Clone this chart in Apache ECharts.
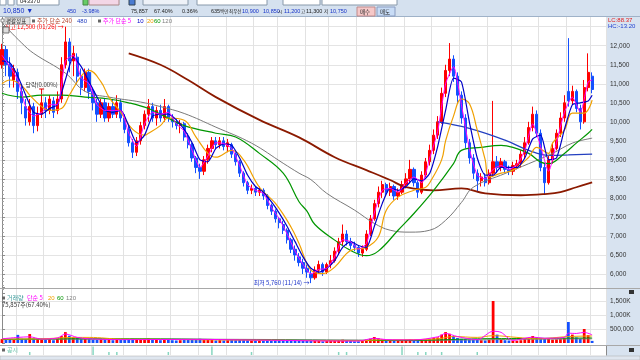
<!DOCTYPE html>
<html><head><meta charset="utf-8">
<script src="https://cdn.jsdelivr.net/npm/echarts/dist/echarts.min.js"></script>
<style>html,body{margin:0;padding:0;background:#fff}#c{width:640px;height:360px}</style>
</head><body><div id="c"></div>
<script>
// ---- candle data (each bar ~ 3 trading days), price in KRW ----
const opens = [
11500,11900,11500,11100,11300,10800,10400,10000,10400,9900,
10200,10500,10300,10550,10300,10600,11500,12100,11600,11700,
11200,10900,11300,10800,10500,10200,10500,10100,10400,10200,
10500,10100,9800,9450,9200,9500,9900,10200,10400,10100,
10300,10100,10400,10100,10000,9900,9950,9600,9400,9050,
8800,8700,9000,9300,9500,9400,9500,9350,9400,9150,
8950,8650,8400,8200,8250,8150,8200,8050,7800,7650,
7450,7300,7150,6900,6650,6450,6300,6150,6000,5900,
6100,6250,6050,6250,6350,6600,6850,7050,6850,6750,
6700,6550,6650,7050,7450,7850,8150,8350,8150,8300,
8050,8150,8350,8500,8750,8400,8150,8600,8950,9250,
9650,10000,10750,11350,11650,11200,10700,10100,9450,9050,
8650,8450,8550,8400,8650,8950,8800,8950,8750,8700,
8850,8900,9150,9450,9850,10200,9700,8800,8400,9000,
9300,9700,10100,10800,10550,10800,10350,10000,10900,11200];
const closes = [
11900,11500,11200,11400,10800,10500,10100,10400,9900,10200,
10500,10300,10600,10250,10600,11500,12100,11600,11800,11200,
10900,11300,10800,10500,10200,10500,10100,10400,10200,10500,
10100,9800,9450,9200,9500,9900,10200,10400,10100,10300,
10100,10400,10100,10000,9900,9950,9600,9400,9050,8800,
8700,9000,9300,9500,9400,9500,9350,9450,9150,8950,
8650,8400,8200,8250,8150,8200,8050,7800,7650,7450,
7350,7150,6900,6650,6500,6300,6150,6050,5900,6100,
6250,6050,6250,6350,6600,6850,7050,6850,6750,6700,
6550,6650,7050,7450,7850,8150,8350,8150,8300,8050,
8150,8350,8500,8750,8400,8150,8600,8950,9250,9650,
10000,10750,11350,11650,11200,10700,10100,9450,9050,8650,
8450,8550,8400,8650,8950,8800,8950,8750,8700,8850,
8900,9150,9450,9850,10200,9700,8800,8400,9000,9300,
9700,10100,10500,10550,10800,10350,10000,10900,11300,10850];
const lows = [
11400,11200,10900,10900,10600,10200,9900,9900,9700,9750,
10100,10100,10200,10100,10200,10500,11400,11300,11200,11000,
10700,10800,10600,10300,10000,10100,10000,10000,10100,10100,
10000,9700,9350,9050,9100,9400,9800,10000,10000,9900,
10000,10000,10000,9850,9800,9700,9500,9300,8950,8650,
8500,8600,8900,9200,9300,9300,9250,9200,9050,8850,
8550,8300,8100,8100,8050,8050,7950,7700,7550,7350,
7200,7050,6800,6550,6350,6200,6000,5900,5760,5850,
6000,5950,6000,6150,6300,6500,6750,6750,6650,6600,
6450,6450,6600,7000,7400,7750,8000,8050,8050,7950,
7950,8100,8250,8400,8300,8000,8100,8550,8850,9150,
9550,9950,10650,11200,11050,10500,9950,9300,8900,8500,
8150,8300,8300,8350,8550,8650,8700,8650,8600,8600,
8750,8800,9050,9400,9750,9600,8700,8100,8350,8900,
9250,9600,10000,10400,10450,10250,9800,9950,10800,10750];
const highs = [
12050,12000,11700,11500,11400,11000,10600,10600,10500,10400,
10700,10650,10700,10650,10800,11700,12500,12200,12000,11800,
11400,11400,11400,10900,10600,10600,10600,10500,10600,10700,
10600,10200,9900,9550,9600,10000,10300,10600,10500,10400,
10450,10600,10450,10200,10100,10050,10000,9700,9450,9100,
8900,9100,9400,9600,9600,9600,9600,9550,9450,9200,
9000,8700,8450,8350,8300,8300,8250,8100,7850,7700,
7500,7400,7200,6950,6750,6550,6400,6250,6100,6200,
6350,6300,6300,6500,6700,6950,7300,7150,6950,6850,
6750,6750,7150,7550,7950,8300,8450,8400,8400,8350,
8250,8450,8650,9000,8800,8450,8700,9050,9400,9800,
10150,10900,11500,12070,11750,11300,10800,10200,9550,9150,
8750,8650,8650,8750,10550,9100,9050,9000,8850,8950,
9000,9250,9600,10000,10400,10300,9800,8900,9100,9450,
9800,10250,10700,12200,10950,10850,10450,11100,11800,11300];
// volume in thousand shares
const volumes = [
140,120,130,110,290,150,130,320,160,140,
120,110,130,100,150,250,390,260,200,180,
150,160,140,120,110,130,110,120,100,110,
110,120,140,150,130,140,150,160,120,110,
100,140,110,100,90,100,110,120,130,140,
150,130,120,110,90,100,90,100,110,100,
110,120,100,90,80,90,80,90,100,90,
90,100,110,100,90,90,80,90,110,80,
70,60,70,80,90,100,120,90,70,60,
60,70,120,150,215,170,130,100,90,80,
80,90,100,140,110,90,110,130,150,180,
200,300,390,330,250,180,150,140,120,110,
120,100,90,110,1500,300,150,100,90,80,
80,100,140,180,250,200,180,170,150,120,
130,140,170,750,300,200,150,500,280,75.857];

// ---- moving averages: [bar index, price] ----
const ma5 = [[0,11750],[2,11450],[4,11100],[6,10400],[8,10150],[10,10250],[12,10450],[14,10450],[16,11600],[18,11750],[20,11150],[22,11000],[24,10450],[26,10300],[28,10300],[30,10300],[32,9700],[34,9350],[36,9950],[38,10250],[40,10200],[42,10250],[44,9950],[46,9750],[48,9250],[50,8800],[52,9100],[54,9450],[56,9430],[58,9300],[60,8850],[62,8350],[64,8200],[66,8120],[68,7750],[70,7450],[72,7050],[74,6600],[76,6250],[78,6000],[80,6120],[82,6150],[84,6450],[86,6900],[88,6850],[90,6650],[92,6800],[94,7600],[96,8200],[98,8250],[100,8150],[102,8400],[104,8550],[106,8400],[108,9050],[110,9750],[112,11000],[114,11450],[116,10450],[118,9300],[120,8600],[122,8500],[124,8750],[126,8850],[128,8750],[130,8870],[132,9250],[134,9950],[136,9350],[138,8700],[140,9450],[142,10250],[144,10650],[146,10250],[148,11050],[149,11100]];
const ma10 = [[0,11600],[2,11550],[4,11200],[6,10700],[8,10250],[10,10200],[12,10350],[14,10450],[16,11100],[18,11700],[20,11450],[22,11050],[24,10650],[26,10300],[28,10250],[30,10300],[32,9900],[34,9450],[36,9650],[38,10150],[40,10200],[42,10200],[44,10050],[46,9800],[48,9450],[50,9000],[52,8950],[54,9300],[56,9420],[58,9380],[60,9050],[62,8600],[64,8300],[66,8150],[68,7900],[70,7600],[72,7250],[74,6850],[76,6450],[78,6150],[80,6050],[82,6150],[84,6350],[86,6700],[88,6850],[90,6750],[92,6700],[94,7250],[96,7850],[98,8250],[100,8200],[102,8300],[104,8500],[106,8450],[108,8650],[110,9350],[112,10300],[114,11150],[116,11050],[118,10000],[120,9050],[122,8600],[124,8600],[126,8800],[128,8800],[130,8800],[132,9050],[134,9550],[136,9650],[138,9000],[140,9050],[142,9800],[144,10450],[146,10500],[148,10550],[149,10700]];
const ma20 = [[0,11000],[2,11100],[5,10950],[7,10700],[10,10400],[12,10300],[15,10350],[17,10700],[20,11200],[22,11350],[25,11050],[27,10650],[30,10250],[33,9800],[36,9650],[37,9700],[40,9900],[42,10100],[46,10040],[49,9600],[52,9170],[54,9070],[58,9250],[61,9000],[65,8280],[69,7860],[73,7230],[75,6800],[78,6100],[81,6010],[84,6180],[88,6620],[92,6700],[95,6970],[97,7670],[100,8020],[104,8200],[107,8280],[108,8400],[111,9000],[112,9500],[114,10150],[116,10600],[118,10480],[120,9780],[122,9000],[123,8550],[126,8650],[129,8730],[133,9070],[135,9330],[138,9170],[139,9440],[142,9780],[144,10230],[147,10230],[149,10570]];
const ma60 = [[0,10750],[5,10650],[10,10700],[15,10700],[21,10650],[27,10600],[32,10500],[37,10350],[41,10150],[46,9900],[54,9700],[59,9600],[65,9170],[71,8650],[75,7900],[77,7650],[79,7300],[84,6890],[88,6620],[92,6480],[95,6600],[100,7150],[104,7590],[109,8200],[114,8900],[116,9250],[121,9330],[126,9380],[129,9330],[133,9170],[136,8940],[138,8900],[142,9170],[145,9440],[148,9700],[149,9800]];
const ma120 = [[0,12600],[5,12070],[8,11800],[16,11280],[21,10800],[27,10650],[35,10520],[40,10400],[46,10220],[54,9860],[63,9440],[71,8910],[75,8650],[78,8480],[82,8120],[89,7680],[94,7330],[98,7150],[103,7100],[108,7150],[112,7410],[116,7880],[119,8280],[127,8640],[133,8900],[139,9170],[144,9440],[149,9570]];
const ma240 = [[32,11800],[40,11500],[47,11100],[54,10650],[65,10050],[75,9590],[84,9070],[92,8730],[98,8470],[102,8280],[109,8200],[116,8250],[122,8120],[131,8070],[137,8100],[141,8150],[145,8280],[149,8410]];
const ma480 = [[110,10000],[118,9830],[127,9520],[133,9250],[138,9120],[143,9130],[149,9150]];
// volume moving averages (thousand shares)
const vma5 = [[0,150],[4,200],[7,220],[10,140],[14,180],[16,320],[19,200],[22,150],[30,120],[50,130],[60,110],[70,95],[80,75],[90,70],[94,170],[97,120],[104,110],[110,220],[112,340],[115,230],[120,120],[124,420],[126,380],[129,90],[134,210],[137,170],[142,200],[143,350],[145,340],[147,380],[149,290]];
const vma20 = [[0,140],[10,150],[16,190],[22,200],[30,140],[40,130],[50,115],[60,105],[70,95],[80,85],[90,80],[95,110],[100,115],[110,150],[114,230],[120,200],[124,260],[130,200],[135,150],[143,230],[149,250]];
const vma60 = [[0,130],[20,150],[40,145],[60,115],[80,95],[100,90],[110,110],[120,150],[130,160],[140,170],[149,180]];
const vma120 = [[0,130],[30,140],[60,130],[90,105],[110,100],[130,130],[149,150]];
// disclosure markers
const discIdx = [7,23,27,29,42,53,63,85,87,101,105,107,111,120];
const discLevel = [1,2.8,1,1,1,2.8,1,1,1,2.8,1,1,1,1];
// month boundaries (bar index where a new month starts)
const monthStarts = [4,11,18,23,31,37,43,50,57,64,70,77,83,90,97,102,109,116,123,129,136,143,149];
const hiDate = '01/26', loDate = '11/14';
const volRatio = '67.40%';
const priceTicks = [5500,13000,500];
const volTicks = [0,2000,500];

const fmt = n => String(Math.round(n)).replace(/\B(?=(\d{3})+(?!\d))/g, ',');
const N = closes.length;
const cats = []; for (let i = 0; i < N + 3; i++) cats.push(String(i));
const UP = '#ff0000', DN = '#1450ff';
const candleData = opens.map((o, i) => [o, closes[i], lows[i], highs[i]]);
const volData = volumes.map((v, i) => ({value: v, itemStyle: {color: closes[i] >= opens[i] ? UP : DN}}));
const discData = []; for (let i = 0; i < N; i++) discData.push(null);
discIdx.forEach((d, k) => { discData[d] = discLevel[k]; });
let hiIdx = 0, loIdx = 0;
highs.forEach((h, i) => { if (h > highs[hiIdx]) hiIdx = i; });
lows.forEach((l, i) => { if (l < lows[loIdx]) loIdx = i; });
const lastClose = closes[N - 1], prevClose = closes[N - 2];
const pct = ((lastClose - prevClose) / prevClose * 100).toFixed(2) + '%';
const lastVol = volumes[N - 1];

const KR = '"Noto Sans CJK KR"';
const NUM = '"Liberation Sans"';
const grid0 = {left: 0, right: 34, top: 7.7, height: 285.3, outerBoundsMode: 'none'};
const grid1 = {left: 0, right: 34, top: 287, height: 56, outerBoundsMode: 'none'};
const grid2 = {left: 0, right: 34, top: 346, height: 9, outerBoundsMode: 'none'};
const vSplit = {show: true, interval: (i) => monthStarts.indexOf(i) >= 0, lineStyle: {color: '#e2e2e2', width: 1}};
function catAxis(g) {
  return {type: 'category', gridIndex: g, data: cats, boundaryGap: true, axisLine: {show: false}, axisTick: {show: false}, axisLabel: {show: false}, splitLine: vSplit};
}
function valAxis(g) { return {type: 'value', gridIndex: g, min: -0.5, max: N + 2.5, show: false}; }
const mainSplitColors = []; for (let v = priceTicks[0]; v <= priceTicks[1]; v += priceTicks[2]) mainSplitColors.push(v === priceTicks[0] ? 'rgba(0,0,0,0)' : '#e4e4e4');
const volSplitColors = []; for (let v = volTicks[0]; v <= volTicks[1]; v += volTicks[2]) volSplitColors.push((v === volTicks[0] || v === volTicks[1]) ? 'rgba(0,0,0,0)' : '#e4e4e4');
const volLabels = {500: '500,000', 1000: '1,000K', 1500: '1,500K'};

function line(data, color, width, xi, yi, smooth) {
  return {type: 'line', xAxisIndex: xi, yAxisIndex: yi, data: data, showSymbol: false, symbol: 'none', smooth: smooth,
    lineStyle: {color: color, width: width}, itemStyle: {color: color}, silent: true, z: 3, animation: false};
}
const T = (x, y, text, fill, size, fam, extra) => Object.assign({type: 'text', x: x, y: y, z: 101, silent: true,
  style: {text: text, fill: fill, font: (size || 6) + 'px ' + (fam || KR), verticalAlign: 'middle', align: 'left'}}, extra || {});

const graphic = [
  {type: 'rect', shape: {x: 606, y: 17, width: 34, height: 343}, style: {fill: '#d8e3f0'}, z: -10, silent: true},
  // toolbar
  {type: 'rect', shape: {x: 0, y: 0, width: 640, height: 17}, style: {fill: '#d5e1ef'}, z: 100, silent: true},
  {type: 'line', shape: {x1: 0, y1: 16.5, x2: 640, y2: 16.5}, style: {stroke: '#9fb2c8', lineWidth: 1}, z: 100, silent: true},
  {type: 'rect', shape: {x: 0, y: -4, width: 6, height: 9}, style: {fill: '#fff', stroke: '#8899aa'}, z: 100},
  {type: 'rect', shape: {x: 8, y: -4, width: 6, height: 9}, style: {fill: '#fff', stroke: '#8899aa'}, z: 100},
  {type: 'rect', shape: {x: 17, y: -4, width: 42, height: 9}, style: {fill: '#fff', stroke: '#8899aa'}, z: 100},
  T(20, 1, '043370', '#222', 6, NUM),
  {type: 'rect', shape: {x: 83, y: -4, width: 5, height: 9}, style: {fill: '#6c6', stroke: '#484'}, z: 100},
  {type: 'rect', shape: {x: 89, y: -4, width: 30, height: 9}, style: {fill: '#f3d6e6', stroke: '#a88'}, z: 100},
  {type: 'rect', shape: {x: 129, y: -4, width: 6, height: 9}, style: {fill: '#4a7bd0', stroke: '#345'}, z: 100},
  {type: 'rect', shape: {x: 143, y: -4, width: 45, height: 9}, style: {fill: '#eef2f8', stroke: '#8899aa'}, z: 100},
  {type: 'rect', shape: {x: 197, y: -4, width: 70, height: 9}, style: {fill: '#fff', stroke: '#8899aa'}, z: 100},
  {type: 'rect', shape: {x: 283, y: -4, width: 37, height: 9}, style: {fill: '#fff', stroke: '#8899aa'}, z: 100},
  {type: 'rect', shape: {x: 322, y: -4, width: 75, height: 9}, style: {fill: '#fff', stroke: '#8899aa'}, z: 100},
  T(3, 11, fmt(lastClose) + ' ▼', '#1632c8', 7, NUM),
  T(67, 11, fmt(prevClose - lastClose), '#1632c8', 5.5, NUM),
  T(82, 11, pct, '#1632c8', 5.5, NUM),
  T(131, 11, '75,857', '#222', 5.5, NUM),
  T(154, 11, '67.40%', '#222', 5.5, NUM),
  T(182, 11, '0.36%', '#222', 5.5, NUM),
  T(211, 11, '635', '#222', 5.5, NUM),
  T(220, 11, '백만', '#222', 4.5),
  T(229, 11, '최우선', '#222', 4.5),
  T(242, 11, '10,900', '#1632c8', 5.5, NUM),
  T(263, 11, '10,850', '#1632c8', 5.5, NUM),
  T(278, 11, '시', '#222', 4.5), T(284, 11, '11,200', '#1632c8', 5.5, NUM),
  T(301, 11, '고', '#222', 4.5), T(306, 11, '11,300', '#222', 5.5, NUM),
  T(324, 11, '저', '#222', 4.5), T(330, 11, '10,750', '#1632c8', 5.5, NUM),
  {type: 'rect', shape: {x: 357, y: 7, width: 18, height: 9}, style: {fill: '#f6c8c8', stroke: '#c08a8a'}, z: 100},
  T(360, 11.5, '매수', '#222', 5.5),
  {type: 'rect', shape: {x: 377, y: 7, width: 18, height: 9}, style: {fill: '#c8dcf6', stroke: '#8a9cc0'}, z: 100},
  T(380, 11.5, '매도', '#222', 5.5),
  // chart legend
  {type: 'rect', shape: {x: 1, y: 19, width: 3, height: 3}, style: {fill: '#fff', stroke: '#666', lineWidth: 0.7}, z: 101},
  {type: 'rect', shape: {x: 5, y: 17.5, width: 25, height: 7}, style: {fill: '#e6e6e6', stroke: '#999', lineWidth: 0.7}, z: 100},
  T(6, 21, '평활정표', '#222', 5.5),
  {type: 'rect', shape: {x: 32, y: 19.5, width: 3, height: 3}, style: {fill: '#666'}, z: 101},
  T(37, 21, '주가 단순 240', '#b5402a', 6),
  T(77, 21, '480', '#2440c0', 6, NUM),
  {type: 'rect', shape: {x: 98, y: 19.5, width: 3, height: 3}, style: {fill: '#666'}, z: 101},
  T(103, 21, '주가 단순 5', '#ff00ff', 6),
  T(137, 21, '10', '#0000c8', 6, NUM),
  T(147, 21, '20', '#f0a000', 6, NUM),
  T(154, 21, '60', '#009600', 6, NUM),
  T(162, 21, '120', '#808080', 6, NUM),
  {type: 'rect', shape: {x: 3, y: 27, width: 6, height: 6}, style: {fill: '#ddd', stroke: '#555', lineWidth: 0.8}, z: 101},
  T(608, 20.5, 'LC:88.37', '#e02020', 6, NUM),
  T(608, 26.5, 'HC:-13.20', '#2040d0', 6, NUM),
  // pane separators
  {type: 'line', shape: {x1: 0, y1: 288.5, x2: 640, y2: 288.5}, style: {stroke: '#a8a8a8', lineWidth: 1}, z: 50, silent: true},
  {type: 'line', shape: {x1: 0, y1: 345.5, x2: 640, y2: 345.5}, style: {stroke: '#a8a8a8', lineWidth: 1}, z: 50, silent: true},
  {type: 'rect', shape: {x: 0, y: 356, width: 640, height: 4}, style: {fill: '#dfe6ef', stroke: '#a8a8a8', lineWidth: 0.5}, z: 50, silent: true},
  {type: 'rect', shape: {x: 629, y: 290, width: 5, height: 4}, style: {fill: '#333'}, z: 101},
  {type: 'rect', shape: {x: 629, y: 348, width: 5, height: 4}, style: {fill: '#333'}, z: 101},
  // volume legend
  {type: 'rect', shape: {x: 2, y: 296.5, width: 3, height: 3}, style: {fill: '#666'}, z: 101},
  T(7, 298, '거래량', '#3a9a9a', 6),
  T(27, 298, '단순 5', '#ff00ff', 6),
  T(48, 298, '20', '#f0a000', 6, NUM),
  T(57, 298, '60', '#009600', 6, NUM),
  T(66, 298, '120', '#808080', 6, NUM),
  T(2, 305, fmt(lastVol * 1000) + '주(' + volRatio + ')', '#333', 6),
  {type: 'rect', shape: {x: 2, y: 348.5, width: 3, height: 3}, style: {fill: '#666'}, z: 101},
  T(7, 350, '공시', '#6cc5ad', 6)
];

const chart = echarts.init(document.getElementById('c'), null, {renderer: 'canvas'});
chart.setOption({
  animation: false,
  backgroundColor: '#fff',
  grid: [grid0, grid1, grid2],
  xAxis: [catAxis(0), valAxis(0), catAxis(1), valAxis(1), catAxis(2)],
  yAxis: [
    {type: 'value', gridIndex: 0, position: 'right', min: priceTicks[0], max: priceTicks[1], interval: priceTicks[2], scale: false,
      axisLine: {show: true, lineStyle: {color: '#8a8a8a'}}, axisTick: {show: true, length: 3, lineStyle: {color: '#8a8a8a'}},
      minorTick: {show: true, splitNumber: 5, length: 2, lineStyle: {color: '#a0a0a0'}},
      axisLabel: {margin: 4, fontSize: 6.5, color: '#333', fontFamily: NUM, formatter: v => (v >= 6000 && v <= 12000) ? fmt(v) : ''},
      splitLine: {show: true, lineStyle: {color: mainSplitColors, width: 1}}},
    {type: 'value', gridIndex: 1, position: 'right', min: volTicks[0], max: volTicks[1], interval: volTicks[2],
      axisLine: {show: true, lineStyle: {color: '#8a8a8a'}}, axisTick: {show: true, length: 3, lineStyle: {color: '#8a8a8a'}},
      axisLabel: {margin: 4, fontSize: 6.5, color: '#333', fontFamily: NUM, formatter: v => volLabels[v] || ''},
      splitLine: {show: true, lineStyle: {color: volSplitColors, width: 1}}},
    {type: 'value', gridIndex: 2, position: 'right', min: 0, max: 3, axisLine: {show: true, lineStyle: {color: '#8a8a8a'}},
      axisTick: {show: false}, axisLabel: {show: false}, splitLine: {show: false}}
  ],
  graphic: graphic,
  series: [
    {type: 'candlestick', xAxisIndex: 0, yAxisIndex: 0, data: candleData, barWidth: '70%', z: 2,
      itemStyle: {color: UP, color0: DN, borderColor: UP, borderColor0: DN, borderWidth: 1},
      markPoint: {symbol: 'circle', symbolSize: 1, itemStyle: {color: 'rgba(0,0,0,0)'}, animation: false, silent: true,
        data: [
          {coord: [hiIdx, highs[hiIdx]], label: {show: true, position: 'left', distance: 1, formatter: '최고 ' + fmt(highs[hiIdx]) + ' (' + hiDate + ') →', color: '#ff0000', fontSize: 6, fontFamily: KR}},
          {coord: [loIdx, lows[loIdx]], label: {show: true, position: 'left', distance: 1, formatter: '최저 ' + fmt(lows[loIdx]) + ' (' + loDate + ') →', color: '#1a32c8', fontSize: 6, fontFamily: KR}},
          {coord: [10, 10800], symbol: 'path://M0,0H10V2H6V10H4V2H0Z', symbolSize: [5, 6], itemStyle: {color: '#e00000'},
            label: {show: true, position: 'top', distance: 1, formatter: '당락(0.00%)', color: '#333', fontSize: 6, fontFamily: KR}}
        ]},
      markLine: {silent: true, symbol: 'none', animation: false, lineStyle: {opacity: 0},
        data: [
          {yAxis: lastClose, label: {show: true, position: 'end', distance: 0, formatter: fmt(lastClose), color: '#fff', backgroundColor: '#1a4cc8', padding: [1, 2, 0, 3], width: 29, fontSize: 6.5, fontFamily: NUM}},
          {yAxis: lastClose, label: {show: true, position: 'end', distance: 3, offset: [0, 7], formatter: pct, color: '#1a4cc8', fontSize: 6.5, fontFamily: NUM}}
        ]}},
    line(ma480, '#2440c0', 1.3, 1, 0, 0.4),
    line(ma240, '#8b1a00', 1.8, 1, 0, 0.4),
    line(ma120, '#7a7a7a', 1, 1, 0, 0.4),
    line(ma60, '#009600', 1.2, 1, 0, 0.4),
    line(ma20, '#f0a000', 1.2, 1, 0, 0.4),
    line(ma10, '#0000c8', 1.2, 1, 0, 0.2),
    line(ma5, '#ff00ff', 1, 1, 0, 0.2),
    {type: 'bar', xAxisIndex: 2, yAxisIndex: 1, data: volData, barWidth: '70%', z: 2,
      markLine: {silent: true, symbol: 'none', animation: false, lineStyle: {opacity: 0},
        data: [
          {yAxis: lastVol, label: {show: true, position: 'end', distance: 0, offset: [0, -6], formatter: fmt(lastVol * 1000), color: '#fff', backgroundColor: '#1a4cc8', padding: [1, 2, 0, 3], width: 29, fontSize: 6.5, fontFamily: NUM}},
          {yAxis: lastVol, label: {show: true, position: 'end', distance: 3, offset: [0, 1], formatter: volRatio, color: '#1a4cc8', fontSize: 6.5, fontFamily: NUM}}
        ]}},
    line(vma120, '#808080', 1, 3, 1, 0.4),
    line(vma60, '#009600', 1, 3, 1, 0.4),
    line(vma20, '#f0a000', 1, 3, 1, 0.4),
    line(vma5, '#ff00ff', 1, 3, 1, 0.3),
    {type: 'bar', xAxisIndex: 4, yAxisIndex: 2, data: discData, barWidth: 1.5, itemStyle: {color: '#86d6c0'}, silent: true}
  ]
});
</script>
</body></html>
